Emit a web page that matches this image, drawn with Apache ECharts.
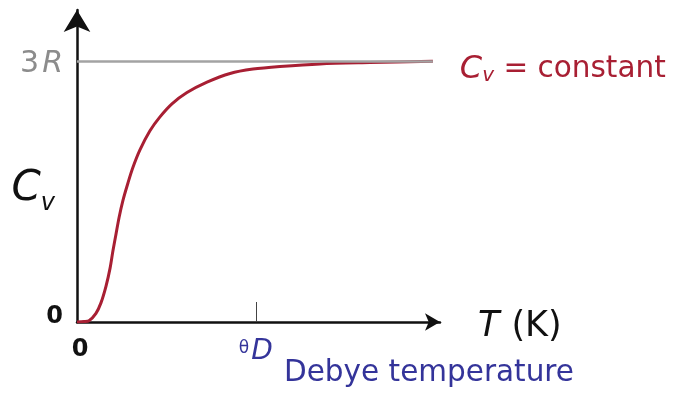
<!DOCTYPE html>
<html>
<head>
<meta charset="utf-8">
<script src="https://cdn.jsdelivr.net/npm/echarts@6/dist/echarts.min.js"></script>
<style>
  html, body { margin: 0; padding: 0; background: #fff; }
  #chart { width: 673px; height: 394px; }
</style>
</head>
<body>
<div id="chart"></div>
<script>
// temperature in units where theta_D = 100, heat capacity in units of R
const temps = [0, 3.9, 6.7, 10.6, 13.4, 16.2, 18.5, 20.1, 21.8, 23.5, 25.7, 28.5, 31.3, 35.2, 40.8, 46.4, 53.1, 61.5, 72.7, 85.6, 98.4, 113.5, 135.9, 163.8, 199];
const cv = [0, 0.005, 0.015, 0.10, 0.22, 0.41, 0.62, 0.82, 1.01, 1.20, 1.40, 1.60, 1.78, 1.98, 2.20, 2.36, 2.51, 2.64, 2.76, 2.86, 2.91, 2.94, 2.97, 2.985, 3.0];
const thetaD = 100;
const limit = 3; // 3R
const xTicks = [0, thetaD];
const yTicks = [0, limit];

const FONT = 'DejaVu Sans';
const RED = '#a81f33';
const BLUE = '#34349a';
const GREY = '#8c8c8c';

const chart = echarts.init(document.getElementById('chart'));

chart.setOption({
  backgroundColor: '#fff',
  animation: false,
  grid: { left: 77, right: 233, top: 10, bottom: 72, outerBoundsMode: 'none' },
  xAxis: {
    type: 'value',
    min: 0,
    max: 203,
    name: '{t|T}{k|(K)}',
    nameLocation: 'end',
    nameGap: 38,
    nameMoveOverlap: false,
    nameTextStyle: {
      padding: [10, 0, 0, 0],
      rich: {
        t: { fontFamily: FONT, fontSize: 35, fontStyle: 'italic', color: '#111' },
        k: { fontFamily: FONT, fontSize: 35, color: '#111', padding: [0, 0, 0, 12] }
      }
    },
    splitLine: { show: false },
    axisLine: {
      lineStyle: { color: '#111', width: 2.5 },
      symbol: ['none', 'arrow'],
      symbolSize: [13, 15]
    },
    axisTick: {
      customValues: [thetaD],
      inside: true,
      length: 20,
      lineStyle: { color: '#444', width: 1 }
    },
    axisLabel: {
      customValues: xTicks,
      margin: 16,
      formatter: v => v === 0 ? '{zero|0}' : '{th|θ}{d|D}',
      rich: {
        zero: { fontFamily: FONT, fontSize: 24, fontWeight: 'bold', color: '#111', padding: [0, 0, 0, 6] },
        th: { fontFamily: FONT, fontSize: 17, color: BLUE, verticalAlign: 'top', padding: [2, 2, 0, 0] },
        d: { fontFamily: FONT, fontSize: 28, fontStyle: 'italic', color: BLUE }
      }
    }
  },
  yAxis: {
    type: 'value',
    min: 0,
    max: 3.59,
    name: '{c|C}{v|v}',
    nameLocation: 'middle',
    nameRotate: 0,
    nameGap: 22,
    nameMoveOverlap: false,
    nameTextStyle: {
      padding: [46, 0, 0, 0],
      rich: {
        c: { fontFamily: FONT, fontSize: 42, fontStyle: 'italic', color: '#111' },
        v: { fontFamily: FONT, fontSize: 24, fontStyle: 'italic', color: '#111', verticalAlign: 'bottom', padding: [30, 0, 0, 0] }
      }
    },
    splitLine: { show: false },
    axisLine: {
      show: true,
      lineStyle: { color: '#111', width: 2.5 },
      symbol: ['none', 'arrow'],
      symbolSize: [20, 22]
    },
    axisTick: { show: false },
    axisLabel: {
      customValues: yTicks,
      margin: 14,
      formatter: v => v === 0 ? '{zero|0}' : '{n|3}{r|R}',
      rich: {
        zero: { fontFamily: FONT, fontSize: 24, fontWeight: 'bold', color: '#111', padding: [0, 0, 10, 0] },
        n: { fontFamily: FONT, fontSize: 30, color: GREY, padding: [6, 3, 0, 0] },
        r: { fontFamily: FONT, fontSize: 30, fontStyle: 'italic', color: GREY, padding: [6, 0, 0, 0] }
      }
    }
  },
  series: [
    {
      type: 'line',
      data: temps.map((t, i) => [t, cv[i]]),
      smooth: 0.3,
      showSymbol: false,
      z: 3,
      lineStyle: { color: RED, width: 3 },
      endLabel: {
        show: true,
        distance: 27,
        offset: [0, 8],
        formatter: '{c|C}{v|v}{t| = constant}',
        rich: {
          c: { fontFamily: FONT, fontSize: 32, fontStyle: 'italic', color: RED },
          v: { fontFamily: FONT, fontSize: 20, fontStyle: 'italic', color: RED, verticalAlign: 'bottom', padding: [14, 0, 0, 0] },
          t: { fontFamily: FONT, fontSize: 29.5, color: RED }
        }
      },
      markLine: {
        silent: true,
        symbol: 'none',
        label: { show: false },
        lineStyle: { color: '#a3a3a3', width: 2.5, type: 'solid' },
        data: [[{ coord: [0, limit] }, { coord: [temps[temps.length - 1], limit] }]]
      }
    }
  ],
  graphic: [
    {
      type: 'text',
      left: 284,
      top: 358,
      style: {
        text: 'Debye temperature',
        font: '29.5px "DejaVu Sans"',
        fill: BLUE
      }
    }
  ]
});
</script>
</body>
</html>
